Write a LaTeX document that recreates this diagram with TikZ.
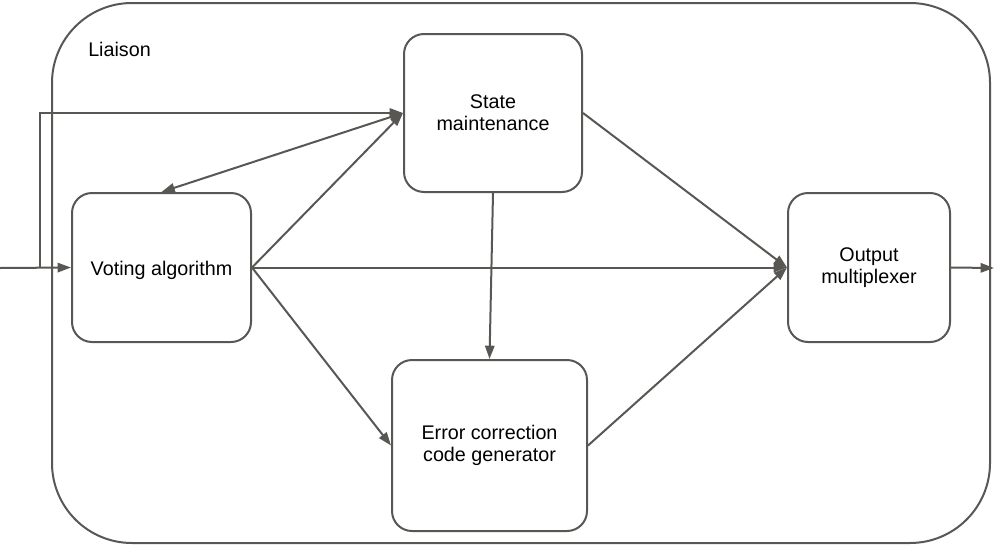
\documentclass[tikz,border=0pt]{standalone}
\usepackage{fontspec}
\setmainfont{Liberation Sans}
\usetikzlibrary{arrows.meta}
\definecolor{edge}{RGB}{89,87,84}

\begin{document}
\begin{tikzpicture}[x=0.75pt,y=-0.75pt,
  blk/.style={draw=edge,line width=1.5pt,rounded corners=15pt,align=center,inner sep=0pt,font=\fontsize{14.8}{16.5}\selectfont},
  link/.style={draw=edge,line width=1.5pt,-{Triangle[length=10pt,width=7pt]}}]
\useasboundingbox (0,0) rectangle (994,546);
% frame
\draw[edge,line width=1.5pt,rounded corners=60pt] (52,3) rectangle (990,543);
\node[anchor=west,inner sep=0pt,font=\fontsize{14.8}{16.5}\selectfont] (liaison) at (88,49) {Liaison};
% blocks
\node[blk,minimum width=133.5pt,minimum height=118.5pt] (state) at (493,113) {State\\maintenance};
\node[blk,text height=15pt,minimum width=134.25pt,minimum height=111.75pt] (voting) at (161.5,267.5) {Voting algorithm};
\node[blk,minimum width=121.5pt,minimum height=111.75pt] (output) at (869,267.5) {Output\\multiplexer};
\node[blk,minimum width=146.25pt,minimum height=128.25pt] (ecc) at (489.5,445.5) {Error correction\\code generator};
\coordinate (in) at (0,268);
\coordinate (split) at (40,268);
\coordinate (out) at (994,268);
% links
\draw[link] (in) -- (voting.west);
\draw[link] (split) |- (state.west);
\draw[link,{Triangle[length=10pt,width=7pt]}-{Triangle[length=10pt,width=7pt]}] (voting.north) -- (state.west);
\draw[link] (voting.east) -- (state.west);
\draw[link] (voting.east) -- (output.west);
\draw[link] (voting.east) -- (ecc.west);
\draw[link] (state.south) -- (ecc.north);
\draw[link] (state.east) -- (output.west);
\draw[link] (ecc.east) -- (output.west);
\draw[link] (output.east) -- (out);
\end{tikzpicture}
\end{document}
